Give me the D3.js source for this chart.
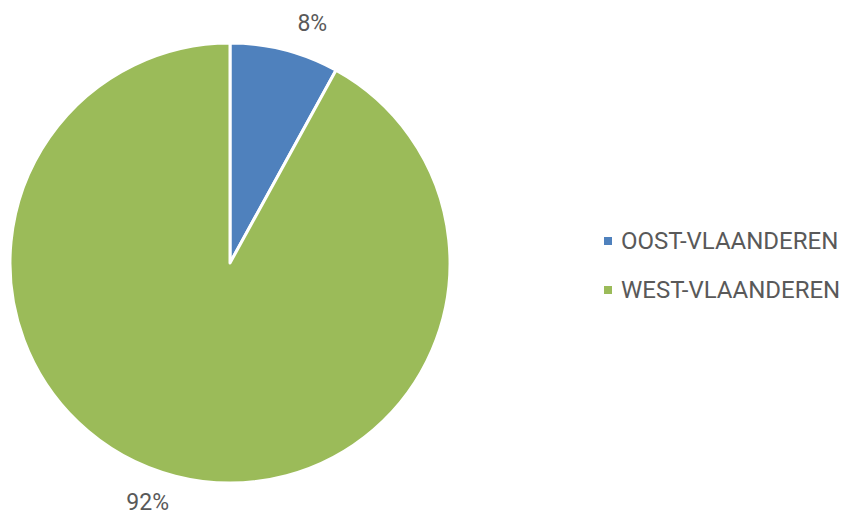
<!DOCTYPE html>
<html><head><meta charset="utf-8">
<script src="https://cdn.jsdelivr.net/npm/d3@7"></script>
<style>body{margin:0;background:#fff}svg{display:block}</style>
</head><body>
<svg id="c" width="844" height="517"></svg>
<script>
const categories = ["OOST-VLAANDEREN", "WEST-VLAANDEREN"];
const values = [8, 92];
const labels = ["8%", "92%"];
const colors = ["#4F81BD", "#9BBB59"];

const svg = d3.select("#c");
const cx = 230, cy = 263, r = 220;
const g = svg.append("g").attr("transform", `translate(${cx},${cy})`);
const pie = d3.pie().sort(null).value(d => d)(values);
const arc = d3.arc().innerRadius(0).outerRadius(r);
g.selectAll("path").data(pie).join("path")
  .attr("d", arc).attr("fill", (d, i) => colors[i])
  .attr("stroke", "#fff").attr("stroke-width", 3).attr("stroke-linejoin", "round");

const lr = 253, off = 0.08;
g.selectAll("text.lbl").data(pie).join("text").attr("class", "lbl")
  .attr("x", d => lr * Math.sin((d.startAngle + d.endAngle) / 2 + off))
  .attr("y", d => -lr * Math.cos((d.startAngle + d.endAngle) / 2 + off))
  .attr("text-anchor", "middle").attr("dominant-baseline", "central")
  .attr("font-family", "Roboto").attr("font-size", 23).attr("fill", "#595959")
  .text((d, i) => labels[i]);

const leg = svg.append("g").attr("transform", "translate(604,0)");
const ly = d3.scalePoint().domain(categories).range([241, 290]);
categories.forEach((c, i) => {
  leg.append("rect").attr("x", 0).attr("y", ly(c) - 4).attr("width", 8).attr("height", 8).attr("fill", colors[i]);
  leg.append("text").attr("x", 17).attr("y", ly(c)).attr("dominant-baseline", "central")
    .attr("font-family", "Roboto").attr("font-size", 24).attr("fill", "#595959").text(c);
});
</script>
</body></html>
